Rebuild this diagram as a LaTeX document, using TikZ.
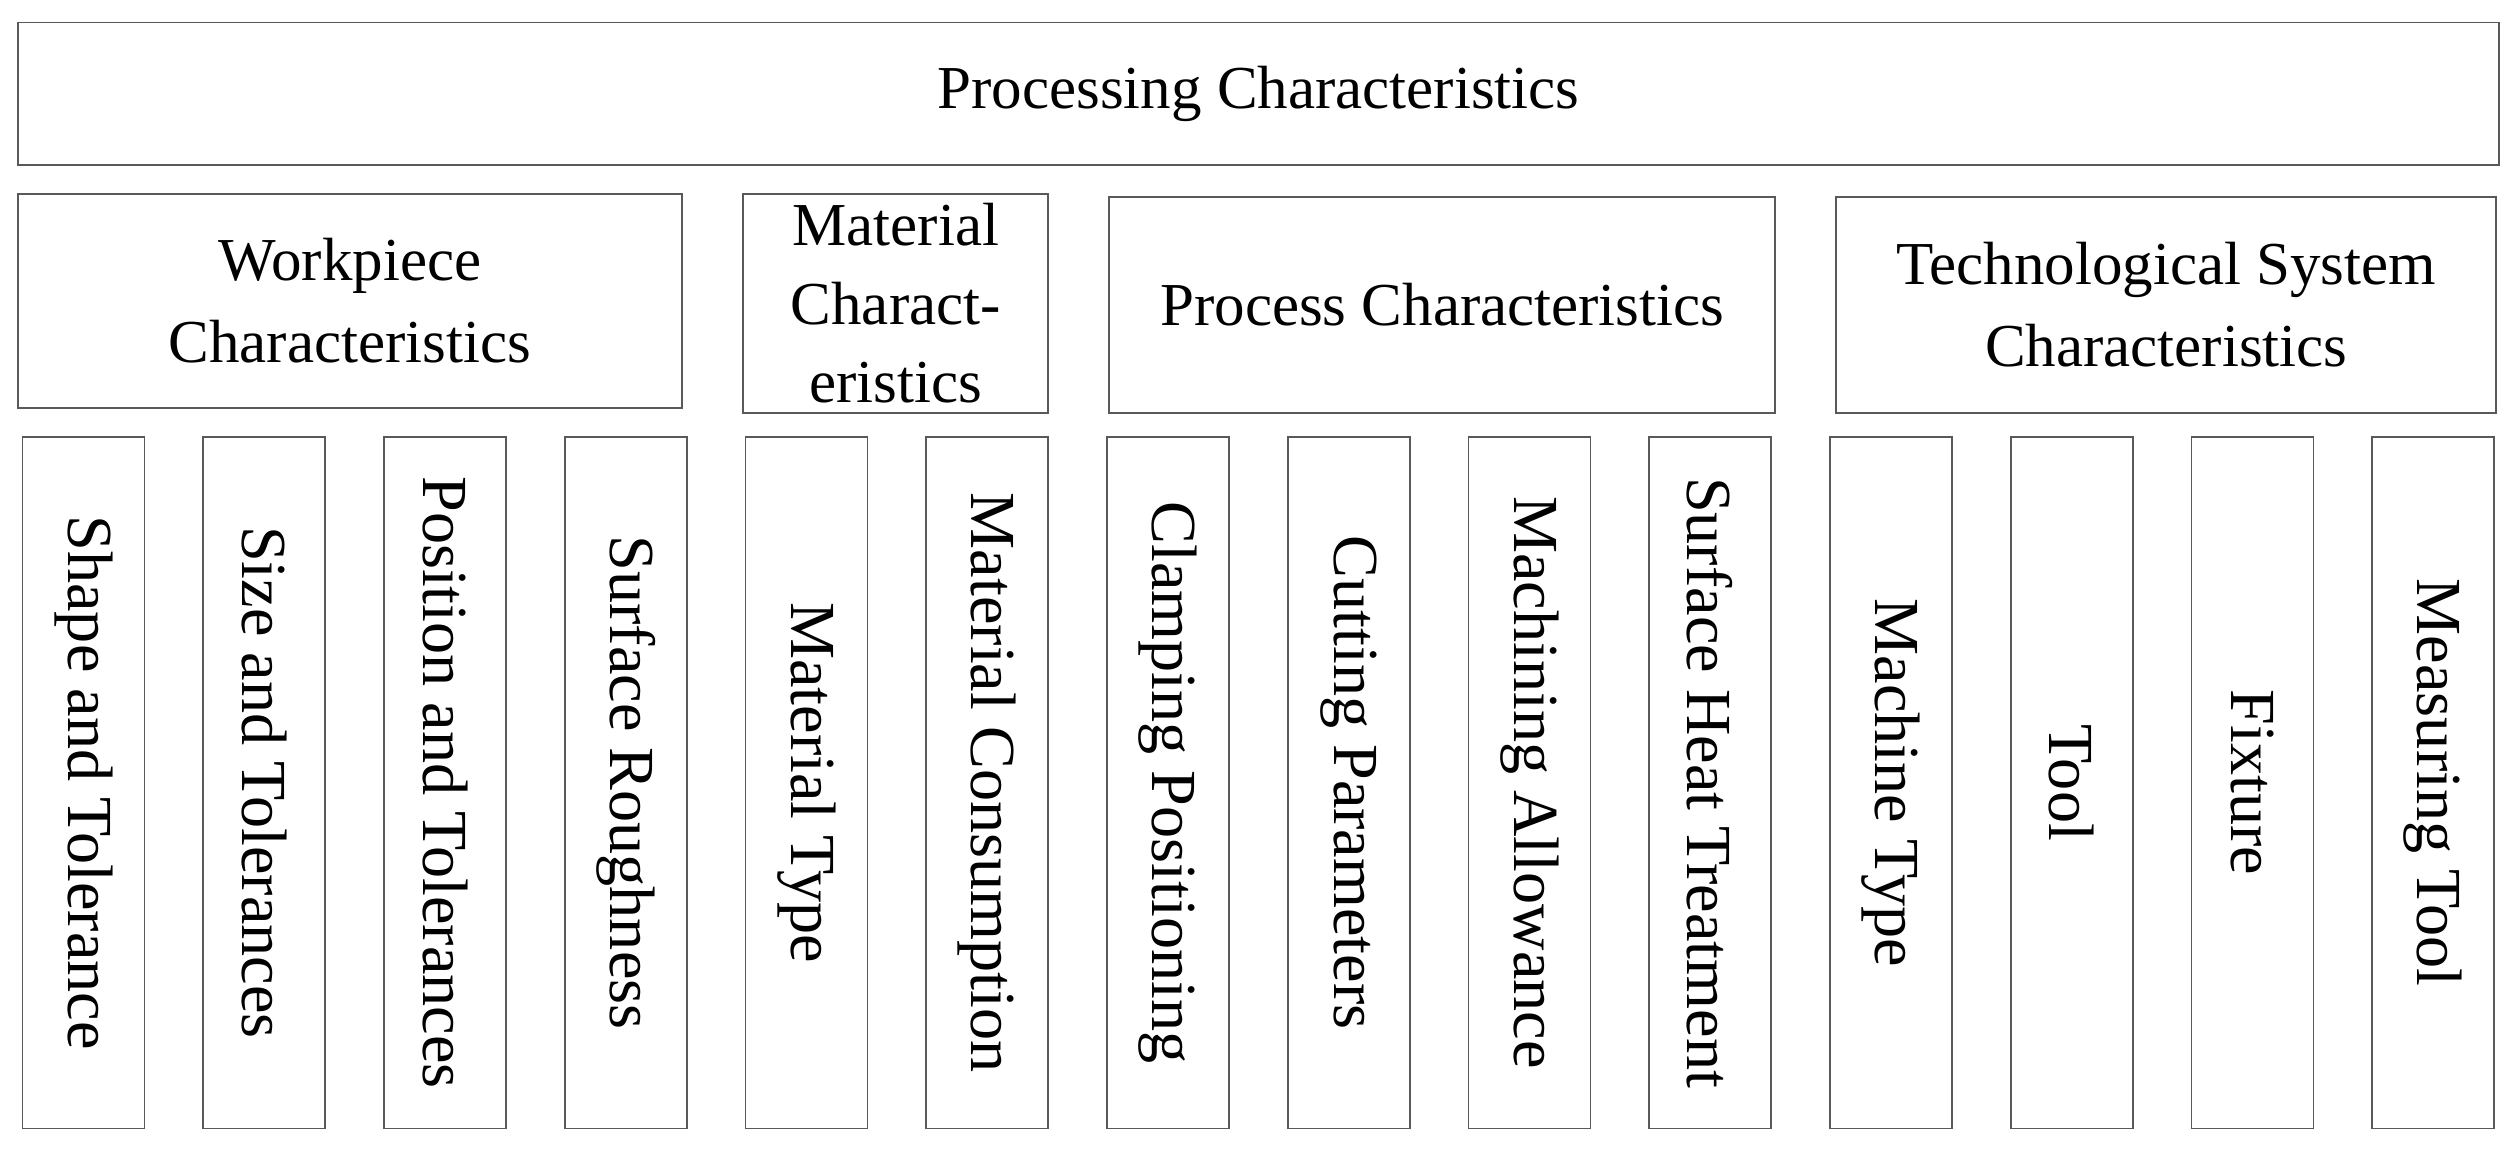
\documentclass[tikz,border=0pt]{standalone}
\usepackage{fontspec}
\setmainfont{Liberation Serif}
\begin{document}
\begin{tikzpicture}[x=1pt,y=-1pt,
  box/.style={draw=black!65,line width=1.2pt,fill=white,inner sep=0pt,align=center,font=\fontsize{38}{51}\selectfont},
  vbox/.style={box,rotate=-90,minimum width=431pt,minimum height=76pt,font=\fontsize{40}{48}\selectfont}]
\useasboundingbox (0,0) rectangle (1568,722);
\node[box,minimum width=1546pt,minimum height=89pt] (top) at (784,58.5) {Processing Characteristics};
\node[box,minimum width=414pt,minimum height=133pt] (wp) at (218,187.5) {Workpiece\\Characteristics};
\node[box,minimum width=190pt,minimum height=136pt,font=\fontsize{38}{49}\selectfont] (mc) at (558,189) {Material\\Charact-\\eristics};
\node[box,minimum width=415pt,minimum height=134pt] (pc) at (898.5,190) {Process Characteristics};
\node[box,minimum width=411pt,minimum height=134pt] (ts) at (1349.5,190) {Technological System\\Characteristics};
\foreach \t [count=\i from 0] in {Shape and Tolerance,Size and Tolerances,Position and Tolerances,Surface Roughness,Material Type,Material Consumption,Clamping Positioning,Cutting Parameters,Machining Allowance,Surface Heat Treatment,Machine Type,Tool,Fixture,Measuring Tool}
  \node[vbox] (b\i) at ({52+\i*112.6},487.5) {\t};
\end{tikzpicture}
\end{document}
